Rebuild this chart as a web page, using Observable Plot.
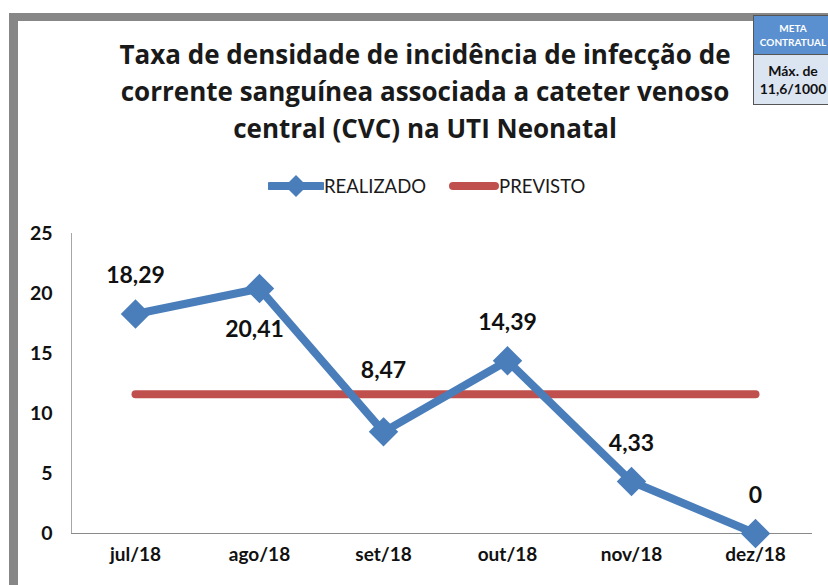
<!DOCTYPE html>
<html><head><meta charset="utf-8">
<script src="https://cdn.jsdelivr.net/npm/d3@7"></script>
<script src="https://cdn.jsdelivr.net/npm/@observablehq/plot@0.6"></script>
<style>
html,body{margin:0;padding:0;background:#fff;}
#wrap{position:relative;width:828px;height:585px;overflow:hidden;font-family:Lato,"Open Sans",sans-serif;}
#frame{position:absolute;left:9px;top:13px;width:900px;height:700px;border-left:9px solid #878787;border-top:8px solid #878787;}
#title{position:absolute;left:40px;width:770px;top:36px;text-align:center;font-family:"Open Sans",Lato,sans-serif;font-weight:bold;font-size:26px;line-height:37px;color:#1a1a1a;}
#legend{position:absolute;top:175px;left:268px;font-size:18.5px;color:#1a1a1a;display:flex;align-items:center;}
#meta{position:absolute;left:753px;top:15px;width:84px;border:1px solid #555;font-weight:bold;text-align:center;}
#meta .h{background:#5a8fd0;color:#fff;font-size:10px;line-height:14px;padding:5px 6px 5px 0;border-bottom:1px solid #555;}
#meta .b{background:#dbe5f1;color:#111;font-size:14px;line-height:18px;padding:7px 6px 6px 0;}
#chart{position:absolute;left:0;top:0;}
</style></head><body>
<div id="wrap">
<div id="frame"></div>
<div id="chart"></div>
<div id="title"></div>
<div id="legend"></div>
<div id="meta"><div class="h">META<br>CONTRATUAL</div><div class="b">Máx. de<br>11,6/1000</div></div>
</div>
<script>
const titleLines = ["Taxa de densidade de incidência de infecção de","corrente sanguínea associada a cateter venoso","central (CVC) na UTI Neonatal"];
const months = ["jul/18","ago/18","set/18","out/18","nov/18","dez/18"];
const realizado = [18.29, 20.41, 8.47, 14.39, 4.33, 0];
const previsto = [11.6, 11.6, 11.6, 11.6, 11.6, 11.6];
const labelPos = ["top","bottom","high","top","top","top"];
const yTicks = [0,5,10,15,20,25];
const seriesNames = ["REALIZADO","PREVISTO"];
const colors = ["#4a7ebb","#c0504d"];

document.getElementById("title").innerHTML = titleLines.join("<br>");
document.getElementById("legend").innerHTML =
  `<svg width="56" height="22"><line x1="2" y1="11" x2="54" y2="11" stroke="${colors[0]}" stroke-width="8" stroke-linecap="round"/><path d="M28 0 L39 11 L28 22 L17 11Z" fill="${colors[0]}"/></svg><span style="margin-right:23px">${seriesNames[0]}</span>` +
  `<svg width="50" height="22"><line x1="4" y1="11" x2="46" y2="11" stroke="${colors[1]}" stroke-width="8" stroke-linecap="round"/></svg><span>${seriesNames[1]}</span>`;

const data = months.map((m,i)=>({m, v: realizado[i], p: previsto[i], pos: labelPos[i], lab: String(realizado[i]).replace(".",",")}));
const fmt = d => d.lab;
const lbl = {fontSize: 23, fontWeight: "bold", fill: "#111"};

const chart = Plot.plot({
  width: 828, height: 585,
  marginTop: 233, marginBottom: 52, marginLeft: 71, marginRight: 10,
  style: {fontFamily: "Lato, 'Open Sans', sans-serif", background: "transparent", overflow: "visible"},
  x: {type: "point", domain: months, padding: 0.5, label: null},
  y: {domain: [0,25], label: null},
  marks: [
    Plot.axisY({ticks: yTicks, tickSize: 0, tickPadding: 19, fontSize: 19.5, fontWeight: "bold", fill: "#111", tickFormat: d=>d}),
    Plot.axisX({tickSize: 0, tickPadding: 14, fontSize: 19, fontWeight: "bold", fill: "#111"}),
    Plot.frame({anchor: "left", stroke: "#a6a6a6"}),
    Plot.ruleY([0], {stroke: "#8a8a8a", strokeWidth: 1.2, insetRight: 6}),
    Plot.line(data, {x: "m", y: "p", stroke: colors[1], strokeWidth: 8}),
    Plot.line(data, {x: "m", y: "v", stroke: colors[0], strokeWidth: 8}),
    Plot.dot(data, {x: "m", y: "v", symbol: "diamond2", r: 12, fill: colors[0], stroke: colors[0], strokeWidth: 2}),
    Plot.text(data.filter(d=>d.pos==="top"), {x: "m", y: "v", text: fmt, dy: -38, ...lbl}),
    Plot.text(data.filter(d=>d.pos==="high"), {x: "m", y: "v", text: fmt, dy: -61, ...lbl}),
    Plot.text(data.filter(d=>d.pos==="bottom"), {x: "m", y: "v", text: fmt, dy: 41, dx: -5, ...lbl})
  ]
});
document.getElementById("chart").appendChild(chart);
</script>
</body></html>
